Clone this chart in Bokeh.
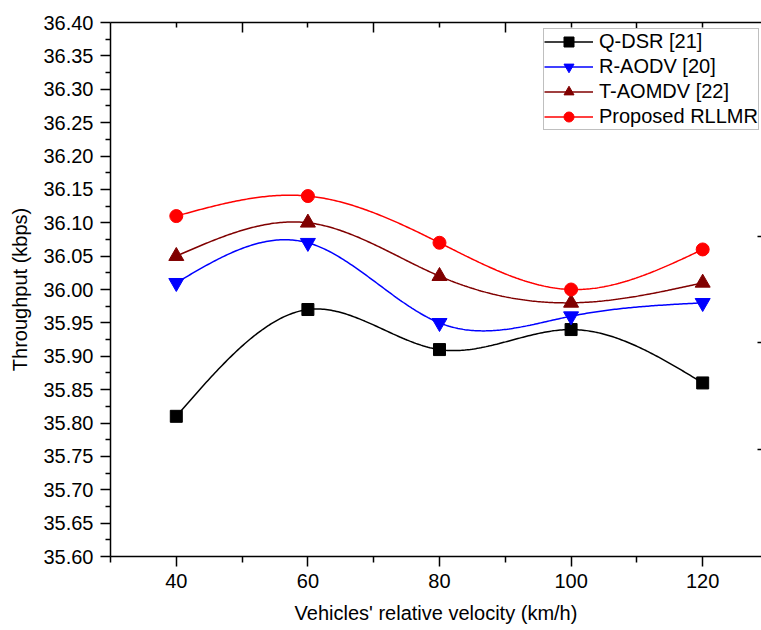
import numpy as np
from bokeh.plotting import figure
from bokeh.models import LinearAxis, FixedTicker, PrintfTickFormatter, Legend, CustomJSTickFormatter
from bokeh.embed import file_html
from bokeh.resources import INLINE

# Throughput (kbps) versus vehicles' relative velocity (km/h)
velocity = [40, 60, 80, 100, 120]
q_dsr = [35.81, 35.97, 35.91, 35.94, 35.86]
r_aodv = [36.01, 36.07, 35.95, 35.96, 35.98]
t_aomdv = [36.05, 36.10, 36.02, 35.98, 36.01]
rllmr = [36.11, 36.14, 36.07, 36.00, 36.06]

series_names = ["Q-DSR [21]", "R-AODV [20]", "T-AOMDV [22]", "Proposed RLLMR"]

x_major_ticks = [40, 60, 80, 100, 120]
x_minor_ticks = [30, 50, 70, 90, 110]
y_major_ticks = [35.60, 35.65, 35.70, 35.75, 35.80, 35.85, 35.90, 35.95,
                 36.00, 36.05, 36.10, 36.15, 36.20, 36.25, 36.30, 36.35, 36.40]
y_minor_ticks = [35.625, 35.675, 35.725, 35.775, 35.825, 35.875, 35.925, 35.975,
                 36.025, 36.075, 36.125, 36.175, 36.225, 36.275, 36.325, 36.375]
top_major_ticks = [50, 70, 90, 110]
top_minor_ticks = [40, 60, 80, 100, 120]
right_ticks = [35.76, 35.92, 36.08]

FONT = "Liberation Sans"


def natural_spline(x, y, n=300):
    """Natural cubic spline through (x, y), sampled for a smooth line."""
    x = np.asarray(x, float)
    y = np.asarray(y, float)
    m = len(x)
    h = np.diff(x)
    A = np.zeros((m, m))
    b = np.zeros(m)
    A[0, 0] = 1.0
    A[-1, -1] = 1.0
    for i in range(1, m - 1):
        A[i, i - 1] = h[i - 1]
        A[i, i] = 2.0 * (h[i - 1] + h[i])
        A[i, i + 1] = h[i]
        b[i] = 3.0 * ((y[i + 1] - y[i]) / h[i] - (y[i] - y[i - 1]) / h[i - 1])
    c = np.linalg.solve(A, b)
    xs = np.linspace(x[0], x[-1], n)
    idx = np.clip(np.searchsorted(x, xs, side="right") - 1, 0, m - 2)
    t = xs - x[idx]
    hi = h[idx]
    bi = (y[idx + 1] - y[idx]) / hi - hi * (2.0 * c[idx] + c[idx + 1]) / 3.0
    di = (c[idx + 1] - c[idx]) / (3.0 * hi)
    ys = y[idx] + bi * t + c[idx] * t ** 2 + di * t ** 3
    return xs, ys


p = figure(width=761, height=630, x_range=(30, 128.94), y_range=(35.60, 36.40),
           output_backend="svg", toolbar_location=None,
           min_border_left=110, min_border_right=0, min_border_top=22,
           min_border_bottom=74, x_axis_location=None, y_axis_location=None)
p.grid.visible = False
p.outline_line_color = None
p.background_fill_color = "white"
p.border_fill_color = "white"

# Bottom axis
xb = LinearAxis(ticker=FixedTicker(ticks=x_major_ticks, minor_ticks=x_minor_ticks),
                axis_label="Vehicles' relative velocity (km/h)")
# Left axis
yl = LinearAxis(ticker=FixedTicker(ticks=y_major_ticks, minor_ticks=y_minor_ticks),
                formatter=PrintfTickFormatter(format="%.2f"),
                axis_label="Throughput (kbps)")
for ax in (xb, yl):
    ax.axis_line_width = 1.5
    ax.axis_line_color = "black"
    ax.major_tick_line_width = 1.5
    ax.minor_tick_line_width = 1.5
    ax.major_tick_in = 0
    ax.minor_tick_in = 0
    ax.major_label_text_font = FONT
    ax.major_label_text_font_size = "20px"
    ax.major_label_text_color = "black"
    ax.axis_label_text_font = FONT
    ax.axis_label_text_font_size = "20px"
    ax.axis_label_text_font_style = "normal"
    ax.axis_label_text_color = "black"
xb.major_tick_out = 10
xb.minor_tick_out = 6
xb.major_label_standoff = 7
xb.axis_label_standoff = 11
yl.major_tick_out = 10
yl.minor_tick_out = 5
yl.major_label_standoff = 7
yl.axis_label_standoff = 9
p.add_layout(xb, "below")
p.add_layout(yl, "left")

blank = CustomJSTickFormatter(code="return ''")

# Top axis: inward ticks only
xt = LinearAxis(ticker=FixedTicker(ticks=top_major_ticks, minor_ticks=top_minor_ticks),
                formatter=blank,
                axis_line_width=1.5, axis_line_color="black",
                major_tick_in=10, major_tick_out=0, minor_tick_in=5, minor_tick_out=0,
                major_tick_line_width=1.5, minor_tick_line_width=1.5,
                major_label_text_font_size="10px", major_label_standoff=0)
p.add_layout(xt, "above")

# Right axis: inward ticks only
yr = LinearAxis(ticker=FixedTicker(ticks=right_ticks, minor_ticks=[]),
                formatter=blank,
                axis_line_color=None,
                major_tick_in=4, major_tick_out=0, minor_tick_in=0, minor_tick_out=0,
                major_tick_line_width=1.5,
                major_label_text_font_size="10px", major_label_standoff=0)
p.add_layout(yr, "right")

styles = [
    (q_dsr, "black", "square", 12),
    (r_aodv, "#0000ff", "inverted_triangle", 15),
    (t_aomdv, "#800000", "triangle", 15),
    (rllmr, "#ff0000", "circle", 13),
]

items = []
for name, (vals, color, marker, size) in zip(series_names, styles):
    sx, sy = natural_spline(velocity, vals)
    ln = p.line(sx, sy, line_color=color, line_width=1.5)
    sc = p.scatter(velocity, vals, marker=marker, size=size,
                   fill_color=color, line_color=color)
    items.append((name, [ln, sc]))

legend = Legend(items=items, location=(433, 426))
legend.label_text_font = FONT
legend.label_text_font_size = "20px"
legend.label_text_color = "black"
legend.glyph_width = 49
legend.glyph_height = 25
legend.label_height = 25
legend.label_standoff = 6
legend.spacing = 0
legend.padding = 0
legend.margin = 0
legend.border_line_color = "#808080"
legend.border_line_width = 1
legend.background_fill_color = "white"
legend.background_fill_alpha = 1.0
p.add_layout(legend, "center")

open("out.html", "w").write(file_html(p, INLINE))
